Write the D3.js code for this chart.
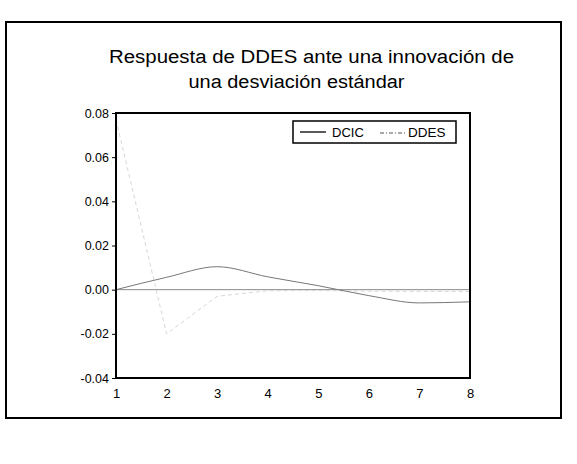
<!DOCTYPE html>
<html>
<head>
<meta charset="utf-8">
<script src="https://cdn.jsdelivr.net/npm/d3@7"></script>
<style>
  html, body { margin: 0; padding: 0; background: #fff; }
  svg { display: block; font-family: Arial, "Liberation Sans", sans-serif; }
</style>
</head>
<body>
<script>
// ---- data ----
const periods = [1, 2, 3, 4, 5, 6, 7, 8];
const dcic = [0.0000, 0.0056, 0.0104, 0.0058, 0.0018, -0.0027, -0.0060, -0.0055];
const ddes = [0.0770, -0.0200, -0.0030, -0.0005, -0.0004, -0.0007, -0.0008, -0.0009];
const yTicks = [-0.04, -0.02, 0.00, 0.02, 0.04, 0.06, 0.08];
const titleLines = ["Respuesta de DDES ante una innovación de", "una desviación estándar"];
const seriesNames = ["DCIC", "DDES"];

(function () {
const W = 577, H = 464;
const svg = d3.select("body").append("svg").attr("width", W).attr("height", H);

// outer frame
svg.append("rect").attr("x", 6).attr("y", 22).attr("width", 555).attr("height", 396)
  .attr("fill", "none").attr("stroke", "#000").attr("stroke-width", 2);

// title
svg.append("text").attr("x", 311.5).attr("y", 63).attr("text-anchor", "middle")
  .attr("font-size", 18).attr("fill", "#000")
  .attr("textLength", 405).attr("lengthAdjust", "spacingAndGlyphs").text(titleLines[0]);
svg.append("text").attr("x", 296.5).attr("y", 88).attr("text-anchor", "middle")
  .attr("font-size", 18).attr("fill", "#000")
  .attr("textLength", 216).attr("lengthAdjust", "spacingAndGlyphs").text(titleLines[1]);

const pl = 116, pr = 470, pt = 113, pb = 378;
const x = d3.scaleLinear().domain([1, 8]).range([pl, pr]);
const y = d3.scaleLinear().domain([-0.04, 0.08]).range([pb, pt]);

// zero line
svg.append("line").attr("x1", pl).attr("x2", pr).attr("y1", y(0)).attr("y2", y(0))
  .attr("stroke", "#8a8a8a").attr("stroke-width", 1);

const line = d3.line().x((d, i) => x(periods[i])).y(d => y(d));

// DDES dashed (very faint in the scanned reference)
svg.append("path").datum(ddes).attr("d", line).attr("fill", "none")
  .attr("stroke", "#d2d2d2").attr("stroke-width", 0.9).attr("stroke-dasharray", "4,3");

// DCIC
svg.append("path").datum(dcic).attr("d", d3.line().curve(d3.curveMonotoneX).x((d, i) => x(periods[i])).y(d => y(d)))
  .attr("fill", "none").attr("stroke", "#777").attr("stroke-width", 1);

// plot frame
svg.append("rect").attr("x", pl).attr("y", pt).attr("width", pr - pl).attr("height", pb - pt)
  .attr("fill", "none").attr("stroke", "#000").attr("stroke-width", 2);

// y axis
const yAxis = d3.axisLeft(y).tickValues(yTicks).tickSize(4).tickPadding(3)
  .tickFormat(d => d.toFixed(2));
const gy = svg.append("g").attr("transform", `translate(${pl},0)`).call(yAxis);
gy.select(".domain").remove();
gy.selectAll("text").attr("font-size", 12.5).attr("font-family", "Arial, 'Liberation Sans', sans-serif").attr("fill", "#000");
gy.selectAll("line").attr("stroke", "#000");

// x axis
const xAxis = d3.axisBottom(x).tickValues(periods).tickSize(0).tickPadding(11).tickFormat(d3.format("d"));
const gx = svg.append("g").attr("transform", `translate(0,${pb})`).call(xAxis);
gx.select(".domain").remove();
gx.selectAll("text").attr("font-size", 13).attr("font-family", "Arial, 'Liberation Sans', sans-serif").attr("fill", "#000");

// legend
const lg = svg.append("g");
lg.append("rect").attr("x", 293).attr("y", 121).attr("width", 163).attr("height", 22)
  .attr("fill", "#fff").attr("stroke", "#000").attr("stroke-width", 1.5);
lg.append("line").attr("x1", 300).attr("x2", 326).attr("y1", 132).attr("y2", 132)
  .attr("stroke", "#000").attr("stroke-width", 1.3);
lg.append("text").attr("x", 332).attr("y", 137).attr("font-size", 13).attr("fill", "#000").text(seriesNames[0]);
lg.append("line").attr("x1", 380).attr("x2", 405).attr("y1", 133).attr("y2", 133)
  .attr("stroke", "#555").attr("stroke-width", 1).attr("stroke-dasharray", "4,2,1,2");
lg.append("text").attr("x", 408).attr("y", 137).attr("font-size", 13.5).attr("fill", "#000").text(seriesNames[1]);
})();
</script>
</body>
</html>
